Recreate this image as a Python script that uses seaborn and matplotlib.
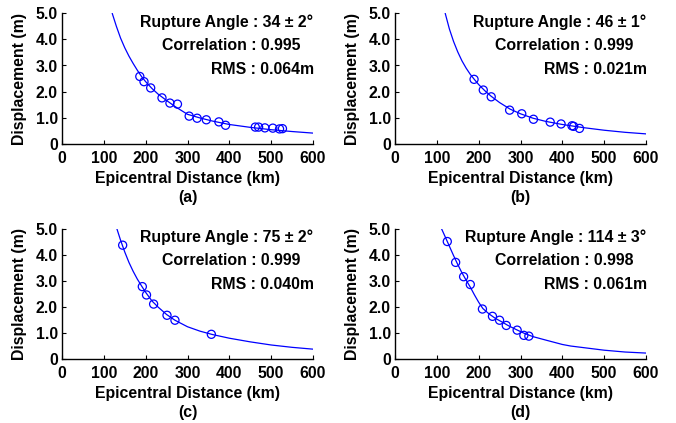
import matplotlib
matplotlib.use("Agg")
import matplotlib.pyplot as plt
import seaborn as sns
import pandas as pd

# ---- data ----
# Panel (a)
a_dist = [186, 196, 212, 239, 258, 276, 304, 323, 345, 375, 391, 462, 470, 485, 504, 520, 527]
a_disp = [2.58, 2.38, 2.14, 1.76, 1.56, 1.52, 1.06, 0.98, 0.92, 0.84, 0.71, 0.64, 0.64, 0.61, 0.60, 0.57, 0.58]
a_curve_x = [120, 130, 140, 150, 160, 170, 180, 190, 200, 215, 230, 250, 270, 300, 330, 360, 400, 450, 500, 550, 600]
a_curve_y = [5.00, 4.50, 4.05, 3.68, 3.36, 3.08, 2.82, 2.58, 2.38, 2.12, 1.90, 1.66, 1.43, 1.13, 0.99, 0.87, 0.74, 0.63, 0.54, 0.47, 0.41]

# Panel (b)
b_dist = [189, 211, 230, 274, 303, 331, 371, 397, 423, 427, 441]
b_disp = [2.47, 2.06, 1.80, 1.29, 1.15, 0.94, 0.83, 0.76, 0.69, 0.67, 0.59]
b_curve_x = [120, 130, 140, 150, 160, 170, 180, 190, 200, 215, 230, 250, 275, 300, 330, 360, 400, 450, 500, 550, 600]
b_curve_y = [5.00, 4.40, 3.92, 3.52, 3.18, 2.90, 2.66, 2.46, 2.27, 2.03, 1.82, 1.58, 1.33, 1.15, 0.98, 0.86, 0.74, 0.62, 0.52, 0.44, 0.38]

# Panel (c)
c_dist = [145, 192, 202, 219, 251, 270, 357]
c_disp = [4.36, 2.77, 2.45, 2.10, 1.67, 1.48, 0.94]
c_curve_x = [131, 140, 150, 160, 170, 180, 190, 200, 215, 230, 250, 270, 300, 330, 360, 400, 450, 500, 550, 600]
c_curve_y = [5.00, 4.55, 4.10, 3.70, 3.36, 3.06, 2.80, 2.55, 2.22, 1.98, 1.70, 1.48, 1.23, 1.06, 0.93, 0.79, 0.65, 0.53, 0.44, 0.37]

# Panel (d)
d_dist = [125, 145, 164, 180, 209, 233, 250, 266, 292, 308, 320]
d_disp = [4.50, 3.70, 3.15, 2.85, 1.91, 1.63, 1.48, 1.28, 1.10, 0.90, 0.87]
d_curve_x = [111, 120, 130, 140, 150, 160, 170, 180, 190, 200, 210, 225, 240, 255, 270, 290, 310, 330, 360, 400, 420, 450, 500, 550, 600]
d_curve_y = [5.00, 4.68, 4.32, 3.96, 3.62, 3.30, 3.02, 2.75, 2.45, 2.17, 1.93, 1.72, 1.55, 1.42, 1.28, 1.12, 0.97, 0.85, 0.72, 0.55, 0.49, 0.43, 0.33, 0.26, 0.22]

angles = ["34 \u00b1 2\u00b0", "46 \u00b1 1\u00b0", "75 \u00b1 2\u00b0", "114 \u00b1 3\u00b0"]
correlations = ["0.995", "0.999", "0.999", "0.998"]
rms_values = ["0.064m", "0.021m", "0.040m", "0.061m"]
panel_tags = ["(a)", "(b)", "(c)", "(d)"]

x_ticks = [0, 100, 200, 300, 400, 500, 600]
y_ticks = [0, 1, 2, 3, 4, 5]
y_tick_labels = ["0", "1.0", "2.0", "3.0", "4.0", "5.0"]

# ---- style ----
sns.set_style("ticks")
plt.rcParams["font.family"] = ["Liberation Sans", "DejaVu Sans"]
plt.rcParams["font.weight"] = "bold"
plt.rcParams["text.color"] = "black"
plt.rcParams["axes.labelcolor"] = "black"
plt.rcParams["xtick.color"] = "black"
plt.rcParams["ytick.color"] = "black"
plt.rcParams["axes.edgecolor"] = "black"

fig = plt.figure(figsize=(6.76, 4.23), dpi=100)
W, H = 676.0, 423.0
positions = [
    (62, 13.3, 313, 143.8),
    (395, 13.3, 646, 143.8),
    (62, 228.5, 313, 358.8),
    (395, 228.5, 646, 358.8),
]

panels = [
    (a_dist, a_disp, a_curve_x, a_curve_y),
    (b_dist, b_disp, b_curve_x, b_curve_y),
    (c_dist, c_disp, c_curve_x, c_curve_y),
    (d_dist, d_disp, d_curve_x, d_curve_y),
]

blue = "#0000ff"
FS = 11.4
for i, ((px, py, cx, cy), (l, t, r, b)) in enumerate(zip(panels, positions)):
    ax = fig.add_axes([l / W, 1 - b / H, (r - l) / W, (b - t) / H])
    curve = pd.DataFrame({"x": cx, "y": cy})
    pts = pd.DataFrame({"x": px, "y": py})
    sns.lineplot(data=curve, x="x", y="y", ax=ax, color=blue, linewidth=0.9,
                 sort=True, estimator=None)
    sns.scatterplot(data=pts, x="x", y="y", ax=ax, marker="o", s=34,
                    facecolors="none", edgecolor=blue, linewidth=0.9, zorder=3)
    ax.set_xlim(0, 600)
    ax.set_ylim(0, 5)
    ax.set_xticks(x_ticks)
    ax.set_xticklabels([str(v) for v in x_ticks])
    ax.set_yticks(y_ticks)
    ax.set_yticklabels(y_tick_labels)
    ax.tick_params(axis="x", direction="in", length=3, width=0.8, labelsize=FS,
                   pad=5, colors="black")
    ax.tick_params(axis="y", direction="in", length=3, width=0.8, labelsize=FS,
                   pad=3, colors="black")
    for lab in ax.get_xticklabels() + ax.get_yticklabels():
        lab.set_fontweight("bold")
    sns.despine(ax=ax)
    for s in ("left", "bottom"):
        ax.spines[s].set_linewidth(1.0)
        ax.spines[s].set_color("black")
    ax.set_xlabel("Epicentral Distance (km)", fontsize=FS, fontweight="bold",
                  labelpad=4, color="black")
    ax.set_ylabel("Displacement (m)", fontsize=FS, fontweight="bold",
                  labelpad=6, color="black")
    ax.text(0.5, -0.41, panel_tags[i], transform=ax.transAxes, ha="center",
            va="center", fontsize=FS, fontweight="bold", color="black")
    ax.text(1.0, 0.933, "Rupture Angle : " + angles[i], transform=ax.transAxes,
            ha="right", va="center", fontsize=FS, fontweight="bold", color="black")
    ax.text(0.951, 0.752, "Correlation : " + correlations[i], transform=ax.transAxes,
            ha="right", va="center", fontsize=FS, fontweight="bold", color="black")
    ax.text(1.003, 0.573, "RMS : " + rms_values[i], transform=ax.transAxes,
            ha="right", va="center", fontsize=FS, fontweight="bold", color="black")
    ax.legend_ = None

fig.savefig("out.png", dpi=100)
